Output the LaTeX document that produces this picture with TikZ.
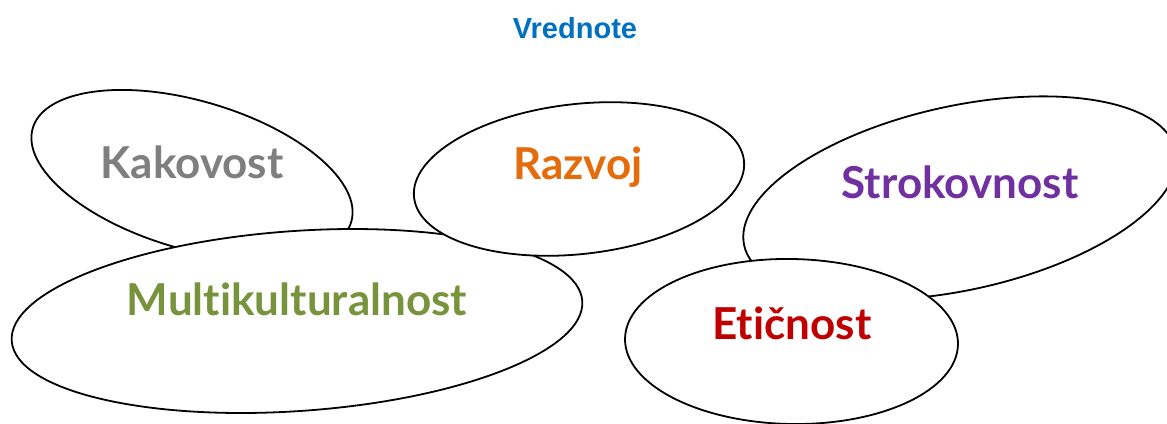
\documentclass[tikz,border=0pt]{standalone}
\usepackage{fontspec}
\usetikzlibrary{shapes.geometric}
\setmainfont{Liberation Sans}
\newfontfamily\labfont[Ligatures={NoCommon,NoRare,NoDiscretionary}]{Lato}
\definecolor{titleblue}{HTML}{0070C0}
\definecolor{cgray}{HTML}{7F7F7F}
\definecolor{corange}{HTML}{E46C0A}
\definecolor{cpurple}{HTML}{7030A0}
\definecolor{cgreen}{HTML}{77933C}
\definecolor{cred}{HTML}{C00000}
\tikzset{
  bubble/.style={ellipse, draw=black, fill=white, line width=1.8pt, inner sep=0pt},
  lab/.style={anchor=base, inner sep=0pt, font=\labfont\bfseries\fontsize{44}{44}\selectfont},
  ttl/.style={anchor=base, inner sep=0pt, text=titleblue, font=\bfseries\fontsize{29}{29}\selectfont}
}
\begin{document}
\begin{tikzpicture}[x=1pt,y=-1pt]
\fill[white] (0,0) rectangle (1167,423);
\clip (0,0) rectangle (1167,423);
\node[ttl] (title) at (575,38) {Vrednote};
% ellipses (drawing order matters)
\node[bubble, minimum width=332pt, minimum height=148pt, rotate=-16.4] (ekak) at (192,175) {};
\node[bubble, minimum width=572pt, minimum height=180pt, rotate=4] (emul) at (297,321) {};
\node[bubble, minimum width=332pt, minimum height=150pt, rotate=6.4] (eraz) at (579,179) {};
\node[bubble, minimum width=442pt, minimum height=184pt, rotate=12.4] (estr) at (960,198) {};
\node[bubble, minimum width=333pt, minimum height=165pt, rotate=-1] (eeti) at (791.5,341.5) {};
% labels
\node[lab, text=cgray] (tkak) at (192,178) {Kakovost};
\node[lab, text=cgreen] (tmul) at (297,315) {Multikulturalnost};
\node[lab, text=corange] (traz) at (578,179) {Razvoj};
\node[lab, text=cpurple] (tstr) at (960,198) {Strokovnost};
\node[lab, text=cred] (teti) at (792,339) {Etičnost};
\end{tikzpicture}
\end{document}
